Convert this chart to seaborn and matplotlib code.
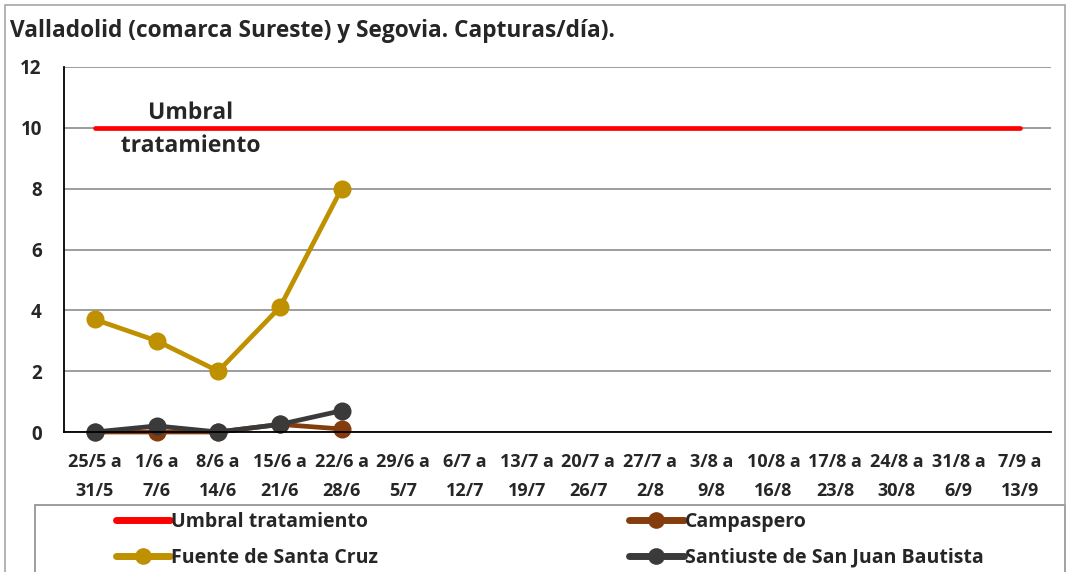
import numpy as np
import pandas as pd
import seaborn as sns
import matplotlib.pyplot as plt
import matplotlib.patheffects as pe
from matplotlib.patches import Rectangle

# ======================================
# DATA
# ======================================

weeks = [
    "25/5 a\n31/5", "1/6 a\n7/6", "8/6 a\n14/6", "15/6 a\n21/6",
    "22/6 a\n28/6", "29/6 a\n5/7", "6/7 a\n12/7", "13/7 a\n19/7",
    "20/7 a\n26/7", "27/7 a\n2/8", "3/8 a\n9/8", "10/8 a\n16/8",
    "17/8 a\n23/8", "24/8 a\n30/8", "31/8 a\n6/9", "7/9 a\n13/9",
]

umbral = [10] * 16
campaspero = [0.0, 0.0, 0.0, 0.25, 0.1]
fuente = [3.7, 3.0, 2.0, 4.1, 8.0]
santiuste = [0.0, 0.2, 0.0, 0.25, 0.7]

series = {
    "Umbral tratamiento": (umbral, "#FF0000", None),
    "Fuente de Santa Cruz": (fuente, "#BF9000", "o"),
    "Campaspero": (campaspero, "#843C0C", "o"),
    "Santiuste de San Juan Bautista": (santiuste, "#3A3A3A", "o"),
}

# ======================================
# PLOT
# ======================================

sns.set_style("white")
plt.rcParams["font.family"] = ["Open Sans", "DejaVu Sans"]
plt.rcParams["font.weight"] = "bold"

fig = plt.figure(figsize=(10.7, 5.72), dpi=100)
ax = fig.add_axes([64 / 1070, 1 - 432 / 572, 987 / 1070, 365 / 572])

for name, (vals, color, marker) in series.items():
    df = pd.DataFrame({"x": np.arange(len(vals)), "y": vals})
    sns.lineplot(
        data=df, x="x", y="y", ax=ax,
        color=color, linewidth=3.4,
        marker=marker, markersize=13 if marker else 0,
        markeredgewidth=0, label=name, legend=False,
        solid_capstyle="round", clip_on=False,
    )

lines = ax.get_lines()

ax.set_xlim(-0.5, len(weeks) - 0.5)
ax.set_ylim(0, 12)
ax.set_yticks(range(0, 13, 2))
ax.set_xticks(range(len(weeks)))
ax.set_xticklabels(weeks, fontsize=13, fontweight="bold", linespacing=1.8)
ax.tick_params(axis="y", labelsize=13.5, length=0, pad=16)
ax.tick_params(axis="x", which="major", length=0, pad=15)
ax.set_xticks(np.arange(-0.5, len(weeks), 1), minor=True)
ax.tick_params(axis="x", which="minor", length=5, color="black", direction="out")
for t in ax.get_yticklabels():
    t.set_fontweight("bold")
ax.set_xlabel("")
ax.set_ylabel("")

ax.grid(axis="y", color="#8C8C8C", linewidth=1.2)
for s in ["top", "right"]:
    ax.spines[s].set_visible(False)
ax.spines["left"].set_color("black")
ax.spines["bottom"].set_color("black")
ax.spines["left"].set_linewidth(1.3)
ax.spines["bottom"].set_linewidth(1.3)

ax.text(
    1.55, 9.95, "Umbral\ntratamiento",
    ha="center", va="center", fontsize=16.5, fontweight="bold",
    linespacing=1.5, zorder=5,
    path_effects=[pe.withStroke(linewidth=5, foreground="white")],
)

fig.text(
    10 / 1070, 1 - 31 / 572,
    "Valladolid (comarca Sureste) y Segovia. Capturas/día).",
    fontsize=16.3, fontweight="bold", va="center",
)

# legend: frame drawn separately, entries placed on the left
fig.patches.append(Rectangle(
    (35 / 1070, -0.01), 1030 / 1070, 1 - 505 / 572 + 0.01,
    transform=fig.transFigure, fill=False, edgecolor="#8C8C8C", linewidth=1.2,
))
order = ["Umbral tratamiento", "Fuente de Santa Cruz",
         "Campaspero", "Santiuste de San Juan Bautista"]
hmap = {l.get_label(): l for l in lines}
leg = fig.legend(
    [hmap[k] for k in order], order,
    loc="upper left", ncol=2,
    bbox_to_anchor=(116 / 1070, 1 - 512 / 572),
    frameon=False, handlelength=2.8, handletextpad=0.05,
    borderaxespad=0, borderpad=0, labelspacing=0.8,
    columnspacing=12.9,
    prop={"weight": "bold", "size": 14},
)
for h in leg.legend_handles:
    h.set_markersize(12)
    h.set_linewidth(5)

fig.patches.append(Rectangle(
    (5 / 1070, -0.01), 1060 / 1070, 1 - 5 / 572 + 0.01,
    transform=fig.transFigure, fill=False, edgecolor="#A6A6A6", linewidth=1.2,
))

plt.savefig("out.png", dpi=100)
